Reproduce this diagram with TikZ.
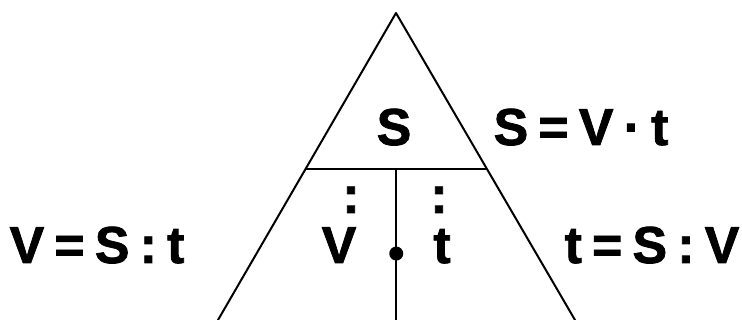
\documentclass[tikz,border=0pt]{standalone}
\usepackage{fontspec}
\setmainfont{Liberation Sans}[WordSpace=0.7, BoldFeatures={FakeBold=1.5}]
\usetikzlibrary{calc}
\tikzset{
  lbl/.style={inner sep=0pt, anchor=base, font=\fontsize{52}{52}\selectfont\bfseries},
  tri/.style={line width=2pt, line cap=round, line join=round}
}
\begin{document}
\begin{tikzpicture}[x=1pt,y=-1pt]
  \useasboundingbox (0,0) rectangle (742,320);
  % tam giac
  \coordinate (A) at (396,13);
  \coordinate (B) at (218,320);
  \coordinate (C) at (575,320);
  \coordinate (M) at ($(A)!0.508!(B)$);
  \coordinate (N) at ($(A)!0.508!(C)$);
  \coordinate (P) at ($(M)!0.5!(N)$);
  \coordinate (Q) at (P|-B);
  \coordinate (O) at ($(P)!0.56!(Q)$);
  \draw[tri] (B)--(A)--(C);
  \draw[tri] (M)--(N);
  \draw[tri] (P)--(Q);
  \fill (O) circle[radius=7pt];
  % chu
  \node[lbl] (s) at (394,145) {S};
  \node[lbl] (v) at (339,263) {V};
  \node[lbl] (t) at (442,263) {t};
  \node[lbl] (cv) at (351,213) {:};
  \node[lbl] (ct) at (439,213) {:};
  \node[lbl] (fs) at (581,145) {S = V · t};
  \node[lbl] (fv) at (97,263) {V = S : t};
  \node[lbl] (ft) at (652,263) {t = S : V};
\end{tikzpicture}
\end{document}
